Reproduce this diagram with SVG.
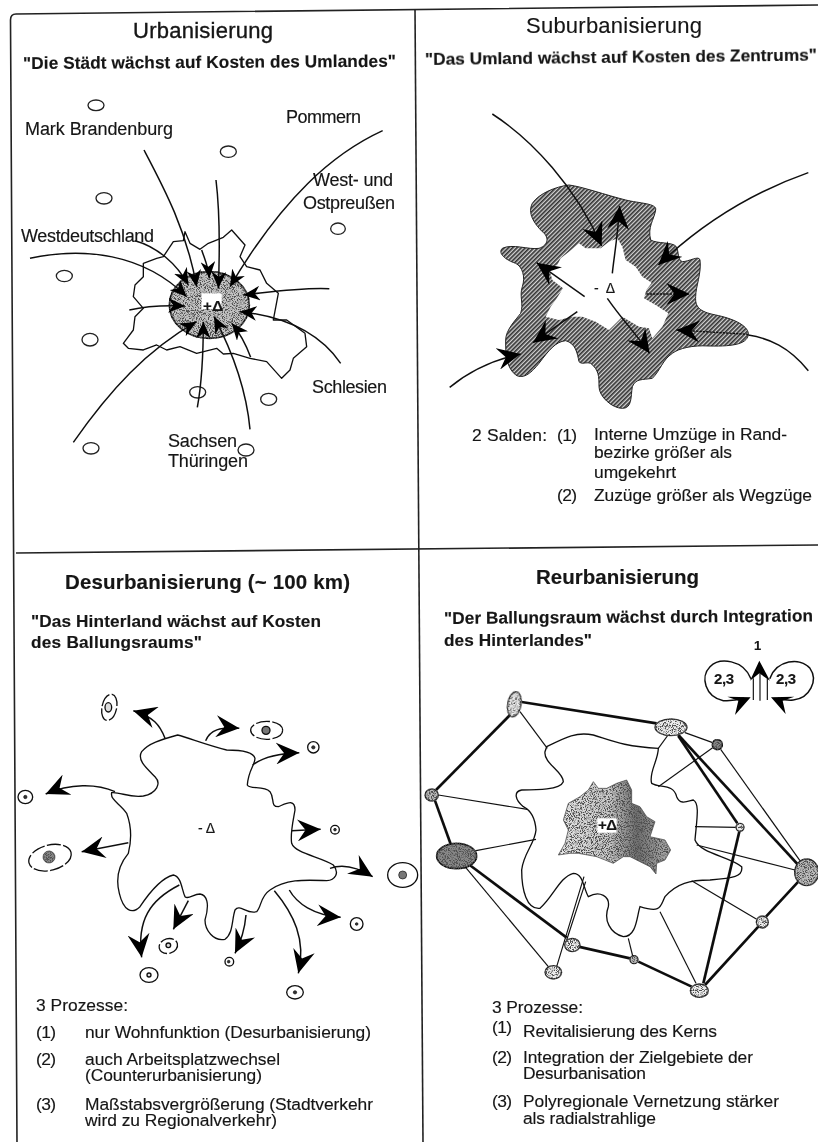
<svg xmlns="http://www.w3.org/2000/svg" width="818" height="1142" viewBox="0 0 818 1142">
<style>
text{font-family:"Liberation Sans",Arial,sans-serif;fill:#141414;stroke:#141414;stroke-width:.15}
.h{font-size:20.5px;font-weight:bold}
.hr{font-size:22px;stroke-width:.35}
.q{font-size:17.2px;font-weight:bold}
.l{font-size:18px}
.b{font-size:17.4px}
.d{font-size:14px}
.k{font-size:15px;font-weight:bold}
.frame{fill:none;stroke:#222;stroke-width:1.6}
.ln{fill:none;stroke:#111;stroke-width:4.5;stroke-linecap:round}
.pl{fill:none;stroke:#111;stroke-width:4.5}
.sm{fill:none;stroke:#111;stroke-width:4.5;marker-end:url(#m1)}
.ar{fill:none;stroke:#111;stroke-width:4.5;marker-end:url(#m2)}
.ar2{fill:none;stroke:#111;stroke-width:4;stroke-dasharray:7 3;marker-end:url(#m2)}
.blob{fill:#fff;stroke:#111;stroke-width:4}
.c{fill:#fff;stroke:#222;stroke-width:4}
.r{fill:#fff;stroke:#111;stroke-width:4}
.rd{fill:#fff;stroke:#111;stroke-width:4;stroke-dasharray:42 7}
.dot{fill:#333;stroke:#111;stroke-width:2}
.dw{fill:#ddd;stroke:#111;stroke-width:4}
.thin{stroke:#111;stroke-width:3.5;fill:none}
.thick{stroke:#111;stroke-width:8;fill:none}
.nl{fill:#eee;stroke:#222;stroke-width:4;filter:url(#stip)}
.nm{fill:#bbb;stroke:#222;stroke-width:4;filter:url(#stip)}
.nd{fill:#888;stroke:#111;stroke-width:5;filter:url(#stip)}
</style>
<defs>
<marker id="m1" viewBox="0 0 10 10" refX="10" refY="5" markerUnits="userSpaceOnUse" markerWidth="50" markerHeight="44" orient="auto" preserveAspectRatio="none"><path d="M10,5 L0,0 L3,5 L0,10 Z" fill="#000"/></marker>
<marker id="m2" viewBox="0 0 10 10" refX="10" refY="5" markerUnits="userSpaceOnUse" markerWidth="70" markerHeight="66" orient="auto" preserveAspectRatio="none"><path d="M10,5 L0,0 L3.5,5 L0,10 Z" fill="#000"/></marker>
<pattern id="hatch" width="9" height="9" patternUnits="userSpaceOnUse" patternTransform="rotate(-45)"><rect width="9" height="9" fill="#d4d4d4"/><rect width="9" height="5" fill="#333"/></pattern>
<linearGradient id="cityg" x1="0" x2="1" y1="0" y2="0"><stop offset="0" stop-color="#e6e6e6"/><stop offset=".45" stop-color="#c8c8c8"/><stop offset=".7" stop-color="#6e6e6e"/><stop offset="1" stop-color="#b0b0b0"/></linearGradient>
<filter id="stip" x="-5%" y="-5%" width="110%" height="110%"><feTurbulence type="fractalNoise" baseFrequency=".36" numOctaves="2" seed="4" result="n"/><feColorMatrix in="n" type="matrix" values="0 0 0 0 .08 0 0 0 0 .08 0 0 0 0 .08 4 4 0 0 -3.7" result="s"/><feComposite in="s" in2="SourceGraphic" operator="atop"/></filter>
<filter id="scan" x="0" y="0" width="1" height="1"><feGaussianBlur stdDeviation=".35"/></filter>
</defs>
<rect width="818" height="1142" fill="#fff"/>
<g id="sheet" filter="url(#scan)">
<rect width="818" height="1142" fill="#fff"/>
<g id="frame">
<path class="frame" d="M17,1142 L10.5,20 Q10.5,14 16,14 L818,5"/>
<path class="frame" d="M415,9 L423,1142"/>
<path class="frame" d="M16,553 L818,545"/>
</g>

<g id="urbanisierung-map" transform="scale(.33333)">
<g id="umland-towns">
<ellipse class="c" cx="288" cy="316" rx="24" ry="16"/><ellipse class="c" cx="685" cy="455" rx="24" ry="17"/><ellipse class="c" cx="312" cy="595" rx="24" ry="17"/><ellipse class="c" cx="1014" cy="686" rx="22" ry="17"/><ellipse class="c" cx="193" cy="828" rx="24" ry="17"/><ellipse class="c" cx="270" cy="1019" rx="24" ry="19"/><ellipse class="c" cx="806" cy="1198" rx="24" ry="18"/><ellipse class="c" cx="273" cy="1345" rx="24" ry="17"/><ellipse class="c" cx="738" cy="1350" rx="24" ry="18"/><ellipse class="c" cx="593" cy="1177" rx="24" ry="17"/>
</g>
<path id="urban-outline" fill="none" stroke="#111" stroke-width="4" stroke-linejoin="round" d="M555,695 L550,722 L520,725 L490,770 L470,775 L430,790 L430,830 L405,855 L400,890 L430,925 L405,950 L400,990 L370,1030 L385,1045 L430,1050 L470,1035 L500,1050 L540,1040 L590,1060 L650,1045 L670,1062 L700,1060 L750,1075 L800,1085 L845,1135 L870,1110 L880,1075 L920,1040 L915,1000 L860,960 L820,960 L835,880 L800,850 L780,810 L740,800 L720,770 L735,735 L695,690 L670,712 L625,730 L600,748 L570,730 Z"/>
<ellipse id="urban-core" cx="628" cy="915" rx="120" ry="100" fill="#c4c4c4" stroke="#111" stroke-width="5" filter="url(#stip)"/>
<g id="urban-connectors">
<path class="sm" d="M432,450 C490,560 560,690 590,860"/>
<path class="sm" d="M648,540 C660,640 660,740 655,865"/>
<path class="sm" d="M1148,392 C1000,460 850,590 690,860"/>
<path class="sm" d="M90,775 C250,740 430,760 560,890"/>
<path class="sm" d="M405,722 C470,740 530,790 565,855"/>
<path class="sm" d="M605,750 C615,780 625,800 628,835"/>
<path class="sm" d="M988,866 C900,862 820,875 730,885"/>
<path class="sm" d="M388,930 C430,920 480,915 555,918"/>
<path class="sm" d="M1022,1090 C960,1000 860,950 720,935"/>
<path class="sm" d="M220,1327 C330,1170 440,1050 590,965"/>
<path class="sm" d="M592,1222 C605,1150 610,1080 610,965"/>
<path class="sm" d="M750,1288 C740,1180 700,1060 642,950"/>
<path class="sm" d="M752,1072 C740,1040 725,1005 695,970"/>
</g>
<rect x="605" y="880" width="60" height="48" fill="#fff"/>
</g>
<text class="k" x="203" y="311" textLength="20">+Δ</text>
<g id="urbanisierung-text">
<text class="hr" x="133" y="38" textLength="140">Urbanisierung</text>
<text class="q" x="23" y="69" textLength="373" transform="rotate(-.35 23 69)">"Die Städt wächst auf Kosten des Umlandes"</text>
<text class="l" x="25" y="135" textLength="148">Mark Brandenburg</text>
<text class="l" x="286" y="123" textLength="75">Pommern</text>
<text class="l" x="313" y="186" textLength="80">West- und</text>
<text class="l" x="303" y="209" textLength="92">Ostpreußen</text>
<text class="l" x="21" y="242" textLength="133">Westdeutschland</text>
<text class="l" x="312" y="393" textLength="75">Schlesien</text>
<text class="l" x="168" y="447" textLength="69">Sachsen</text>
<text class="l" x="168" y="467" textLength="80">Thüringen</text>
</g>

<g id="suburbanisierung-map" transform="translate(409,100) scale(.33333)">
<path id="sub-ring" fill="url(#hatch)" stroke="#222" stroke-width="3" d="M480,255 C520,260 590,285 650,300 C690,310 745,310 740,330 C735,360 715,380 725,420 C745,432 790,425 802,440 C810,455 805,480 820,485 C840,485 870,465 873,480 C878,520 860,560 860,590 C858,620 870,635 920,645 C970,655 1015,675 1018,700 C1018,730 980,740 900,738 C850,735 810,745 790,760 C760,780 755,810 730,835 C700,840 680,835 670,860 C665,890 670,925 640,925 C610,925 570,890 570,860 C570,830 570,810 545,790 C530,785 520,795 510,785 C505,760 500,730 470,722 C440,725 420,750 390,790 C370,815 345,840 320,825 C290,800 290,760 290,720 C290,690 320,660 335,640 C345,610 330,590 340,560 C350,530 340,500 320,490 C290,480 265,460 280,445 C310,430 360,450 390,445 C420,435 420,410 400,395 C375,370 355,340 370,310 C390,280 440,260 480,255 Z"/>
<path id="sub-core" fill="#fff" d="M625,415 L640,440 L650,480 L680,500 L700,530 L728,548 L712,570 L705,595 L740,615 L778,640 L760,680 L730,715 L720,685 L690,680 L640,650 L600,690 L560,665 L520,650 L490,650 L450,660 L410,650 L425,620 L440,600 L462,565 L430,540 L420,505 L445,495 L455,475 L480,455 L510,430 L530,445 L575,445 L600,425 Z"/>
<g id="sub-connectors">
<path class="ar" d="M250,42 C370,120 500,260 578,438"/>
<path class="ar" d="M1198,218 C1050,270 900,350 748,495"/>
<path class="pl" d="M1198,812 C1140,740 1080,715 1018,705"/>
<path class="ar2" d="M1018,703 L802,690"/>
<path class="ar" d="M122,862 C180,815 250,780 335,762"/>
<path class="ar" d="M610,520 C615,470 625,420 632,318"/>
<path class="ar" d="M527,590 L383,488"/>
<path class="ar2" d="M712,582 L842,582"/>
<path class="ar" d="M595,595 C640,660 680,700 722,760"/>
<path class="ar" d="M505,635 L372,728"/>
</g>
</g>
<text class="d" x="594" y="293" textLength="21">- Δ</text>
<g id="suburbanisierung-text">
<text class="hr" x="526" y="33" textLength="176" style="stroke-width:.15">Suburbanisierung</text>
<text class="q" x="425" y="65" textLength="392" transform="rotate(-.65 425 65)">"Das Umland wächst auf Kosten des Zentrums"</text>
<text class="b" x="472" y="441" textLength="75">2 Salden:</text>
<text class="b" x="557" y="441" textLength="20">(1)</text>
<text class="b" x="594" y="440" textLength="193">Interne Umzüge in Rand-</text>
<text class="b" x="594" y="458" textLength="138">bezirke größer als</text>
<text class="b" x="594" y="478" textLength="82">umgekehrt</text>
<text class="b" x="557" y="501" textLength="20">(2)</text>
<text class="b" x="594" y="501" textLength="218">Zuzüge größer als Wegzüge</text>
</g>

<g id="desurbanisierung-map" transform="translate(0,670) scale(.33333)">
<path id="des-outline" class="blob" d="M533,195 C570,205 620,225 680,240 C720,240 760,245 765,265 C765,285 745,300 742,345 C750,360 790,345 810,365 C825,385 810,410 835,410 C860,400 885,385 885,420 C880,450 870,490 875,520 C885,550 960,560 1000,585 C1020,610 1005,630 980,632 C920,630 860,625 810,660 C780,680 785,710 770,725 C740,735 720,700 705,720 C695,750 700,790 675,808 C640,815 615,780 615,750 C630,700 620,675 600,672 C580,672 565,690 555,680 C545,660 545,620 520,615 C480,625 440,680 420,710 C395,735 370,720 358,670 C345,620 360,580 385,550 C395,510 395,470 380,430 C360,400 330,390 335,368 C360,365 390,385 430,378 C470,370 485,340 465,320 C440,295 410,270 425,245 C445,220 480,210 533,195 Z"/>
<g id="des-connectors">
<path class="ar" d="M495,205 C480,165 460,140 400,122"/>
<path class="ar" d="M617,212 C630,180 660,170 718,175"/>
<path class="ar" d="M758,285 C790,260 840,250 898,248"/>
<path class="ar" d="M345,365 C290,340 210,340 137,372"/>
<path class="ar" d="M875,482 L962,478"/>
<path class="ar" d="M385,518 L245,545"/>
<path class="ar" d="M990,595 C1030,580 1070,590 1118,620"/>
<path class="ar" d="M868,660 C890,700 940,735 1022,742"/>
<path class="ar" d="M823,662 C880,730 920,810 895,910"/>
<path class="ar" d="M538,645 C450,690 410,750 425,862"/>
<path class="ar" d="M565,692 L520,778"/>
<path class="ar" d="M738,735 C735,770 725,810 705,850"/>
</g>
<g id="des-cities">
<ellipse class="rd" cx="328" cy="112" rx="22" ry="40" transform="rotate(12 328 112)"/><ellipse class="dw" cx="325" cy="112" rx="10" ry="14"/>
<ellipse class="rd" cx="800" cy="181" rx="48" ry="27"/><circle class="dw" cx="798" cy="181" r="12" style="fill:#777"/>
<circle class="r" cx="940" cy="232" r="17"/><circle class="dot" cx="940" cy="232" r="5"/>
<ellipse class="r" cx="76" cy="381" rx="22" ry="20"/><circle class="dot" cx="76" cy="381" r="5"/>
<circle class="r" cx="1005" cy="479" r="13"/><circle class="dot" cx="1005" cy="479" r="4"/>
<ellipse class="rd" cx="150" cy="563" rx="65" ry="38" transform="rotate(-14 150 563)"/><circle class="dot" cx="147" cy="561" r="18" style="fill:#888;filter:url(#stip)"/>
<ellipse class="r" cx="1208" cy="615" rx="45" ry="37"/><circle class="dot" cx="1208" cy="615" r="12" style="fill:#777"/>
<circle class="r" cx="1070" cy="762" r="19"/><circle class="dot" cx="1070" cy="762" r="4"/>
<ellipse class="rd" cx="505" cy="828" rx="28" ry="22" transform="rotate(-15 505 828)"/><circle class="dw" cx="505" cy="826" r="7"/>
<ellipse class="r" cx="447" cy="915" rx="27" ry="22"/><circle class="dw" cx="447" cy="915" r="6"/>
<circle class="r" cx="688" cy="875" r="13"/><circle class="dot" cx="686" cy="875" r="4"/>
<ellipse class="r" cx="885" cy="967" rx="25" ry="20"/><circle class="dot" cx="885" cy="967" r="5"/>
</g>
</g>
<text class="d" x="198" y="833" textLength="17">- Δ</text>
<g id="desurbanisierung-text">
<text class="h" x="65" y="589" textLength="285">Desurbanisierung (~ 100 km)</text>
<text class="q" x="31" y="627" textLength="290">"Das Hinterland wächst auf Kosten</text>
<text class="q" x="31" y="648" textLength="171">des Ballungsraums"</text>
<text class="b" x="36" y="1011" textLength="92">3 Prozesse:</text>
<text class="b" x="36" y="1038" textLength="20">(1)</text>
<text class="b" x="85" y="1038" textLength="286">nur Wohnfunktion (Desurbanisierung)</text>
<text class="b" x="36" y="1065" textLength="20">(2)</text>
<text class="b" x="85" y="1065" textLength="195">auch Arbeitsplatzwechsel</text>
<text class="b" x="85" y="1081" textLength="177">(Counterurbanisierung)</text>
<text class="b" x="36" y="1110" textLength="20">(3)</text>
<text class="b" x="85" y="1110" textLength="288">Maßstabsvergrößerung (Stadtverkehr</text>
<text class="b" x="85" y="1126" textLength="192">wird zu Regionalverkehr)</text>
</g>

<g id="reurbanisierung-map" transform="translate(410,640) scale(.33333)">
<path id="reur-outline" class="blob" d="M410,320 C470,290 500,275 550,285 C600,300 640,320 745,325 C745,360 715,400 725,430 C750,445 790,430 800,470 C810,495 830,485 850,480 C870,490 860,540 855,600 C870,640 960,650 995,680 C1000,710 970,715 900,720 C840,720 800,730 765,770 C750,800 755,820 690,800 C680,830 680,890 640,890 C600,880 580,840 595,800 C600,770 570,750 535,770 C520,745 520,700 490,700 C450,710 430,770 390,805 C350,810 335,750 335,690 C340,640 375,610 378,570 C375,530 360,510 340,500 C315,480 310,455 335,450 C380,450 450,450 460,425 C460,395 400,370 405,335 Z"/>
<path id="reur-core" fill="url(#cityg)" stroke="#333" stroke-width="2" filter="url(#stip)" d="M550,425 L565,445 L590,445 L620,430 L650,420 L665,450 L665,490 L690,500 L710,530 L735,545 L720,590 L765,600 L782,630 L765,660 L740,670 L738,702 L720,680 L660,650 L640,650 L610,670 L560,650 L505,640 L480,640 L445,645 L465,610 L475,570 L460,540 L475,490 L510,470 L535,450 Z"/>
<rect x="562" y="535" width="58" height="43" fill="#fff"/>
<g id="reur-connectors">
<path class="thick" d="M335,186 L740,250"/>
<path class="thick" d="M300,225 L78,450"/>
<path class="thick" d="M75,482 L122,612"/>
<path class="thick" d="M175,672 L470,893"/>
<path class="thick" d="M505,920 L660,955 M685,965 L845,1040"/>
<path class="thick" d="M885,1035 L1045,860 M1068,830 L1165,725"/>
<path class="thick" d="M880,1030 L988,575"/>
<path class="thick" d="M805,288 L982,550"/>
<path class="thick" d="M805,285 L1165,675"/>
<path class="thin" d="M330,215 L412,325"/>
<path class="thin" d="M85,465 L352,508"/>
<path class="thin" d="M198,632 L378,598"/>
<path class="thin" d="M165,680 L415,980"/>
<path class="thin" d="M440,980 L522,710 M470,900 L527,725"/>
<path class="thin" d="M655,895 L668,948"/>
<path class="thin" d="M750,815 L858,1030"/>
<path class="thin" d="M845,722 L1040,838"/>
<path class="thin" d="M860,615 L1155,690"/>
<path class="thin" d="M855,560 L980,562"/>
<path class="thin" d="M745,440 L910,322"/>
<path class="thin" d="M785,270 L745,325"/>
<path class="thin" d="M825,278 L908,308"/>
<path class="thin" d="M932,328 L1172,665"/>
</g>
<g id="reur-towns">
<ellipse class="nl" cx="313" cy="193" rx="20" ry="38" transform="rotate(10 313 193)"/>
<ellipse class="nl" cx="783" cy="262" rx="48" ry="25"/>
<circle class="nd" cx="922" cy="314" r="15"/>
<ellipse class="nm" cx="65" cy="465" rx="20" ry="18"/>
<ellipse class="nd" cx="140" cy="648" rx="60" ry="38"/>
<circle class="nl" cx="990" cy="562" r="12"/>
<ellipse class="nm" cx="1190" cy="697" rx="36" ry="40"/>
<circle class="nl" cx="1057" cy="846" r="18"/>
<ellipse class="nl" cx="487" cy="915" rx="23" ry="20"/>
<ellipse class="nl" cx="430" cy="997" rx="25" ry="20"/>
<circle class="nm" cx="672" cy="959" r="12"/>
<ellipse class="nl" cx="868" cy="1052" rx="27" ry="20"/>
</g>
<g id="reur-key">
<path class="ln" d="M1022,115 C1000,60 930,50 900,80 C870,110 885,170 940,182 C970,184 990,178 1000,175"/>
<path class="ln" d="M1080,115 C1100,60 1170,50 1200,85 C1225,120 1200,175 1150,180 C1130,182 1115,178 1105,175"/>
<path d="M1022,172 L952,170 L985,182 L975,225 Z" fill="#000"/>
<path d="M1083,172 L1153,170 L1118,182 L1127,222 Z" fill="#000"/>
<path class="thin" d="M1030,180 L1030,115 M1050,182 L1050,100 M1072,180 L1072,115"/>
<path d="M1048,62 L1020,122 L1048,100 L1080,122 Z" fill="#000"/>
</g>
</g>
<text class="k" x="598" y="830" textLength="19">+Δ</text>
<g id="reurbanisierung-text">
<text class="h" x="536" y="584" textLength="163">Reurbanisierung</text>
<text class="q" x="444" y="624" textLength="369" transform="rotate(-.4 444 624)">"Der Ballungsraum wächst durch Integration</text>
<text class="q" x="444" y="646" textLength="148">des Hinterlandes"</text>
<text class="k" x="754" y="650" style="font-size:13px">1</text>
<text class="k" x="714" y="684" textLength="20">2,3</text>
<text class="k" x="776" y="684" textLength="20">2,3</text>
<text class="b" x="492" y="1013" textLength="91">3 Prozesse:</text>
<text class="b" x="492" y="1033" textLength="20">(1)</text>
<text class="b" x="523" y="1037" textLength="194">Revitalisierung des Kerns</text>
<text class="b" x="492" y="1063" textLength="20">(2)</text>
<text class="b" x="523" y="1063" textLength="230">Integration der Zielgebiete der</text>
<text class="b" x="523" y="1079" textLength="123">Desurbanisation</text>
<text class="b" x="492" y="1107" textLength="20">(3)</text>
<text class="b" x="523" y="1107" textLength="256">Polyregionale Vernetzung stärker</text>
<text class="b" x="523" y="1124" textLength="133">als radialstrahlige</text>
</g>
</g>
</svg>
